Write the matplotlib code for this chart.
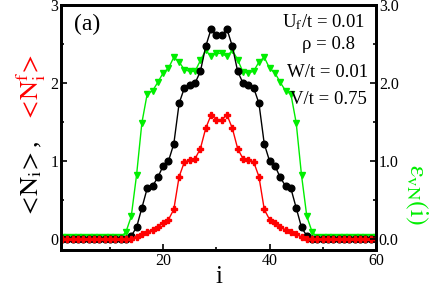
import matplotlib
matplotlib.use("Agg")
import matplotlib.pyplot as plt
from matplotlib.ticker import MultipleLocator

plt.rcParams['font.family'] = ['Liberation Serif', 'DejaVu Serif']
plt.rcParams['mathtext.fontset'] = 'stix'

sites = list(range(1, 61))
n_total = [0.0]*13 + [0.04, 0.15, 0.40, 0.65, 0.68, 0.79, 0.94, 1.00, 1.22, 1.74,
                      1.94, 1.97, 2.00, 2.15, 2.47, 2.69, 2.61, 2.61, 2.69, 2.47,
                      2.15, 2.00, 1.97, 1.94, 1.74, 1.22, 1.00, 0.94, 0.79, 0.68,
                      0.65, 0.40, 0.15, 0.04] + [0.0]*13
n_f = [0.0]*14 + [0.03, 0.06, 0.09, 0.12, 0.15, 0.21, 0.25, 0.38, 0.80, 0.99,
                  1.01, 1.03, 1.16, 1.42, 1.59, 1.53, 1.53, 1.59, 1.42, 1.16,
                  1.03, 1.01, 0.99, 0.80, 0.38, 0.25, 0.21, 0.15, 0.12, 0.09,
                  0.06, 0.03] + [0.0]*14
entropy = [0.02]*12 + [0.09, 0.29, 0.82, 1.49, 1.86, 1.90, 2.01, 2.13, 2.19, 2.33,
                       2.27, 2.17, 2.15, 2.15, 2.29, 2.42, 2.34, 2.38, 2.38, 2.34,
                       2.42, 2.30, 2.14, 2.13, 2.15, 2.27, 2.33, 2.19, 2.13, 2.01,
                       1.90, 1.86, 1.49, 0.82, 0.29, 0.09] + [0.02]*12

xticks = [20, 40, 60]
yticks_left = [0, 1, 2, 3]
yticks_right = [0.0, 1.0, 2.0, 3.0]
params = ["U$_\\mathrm{f}$/t = 0.01", "\u03c1 = 0.8", "W/t = 0.01", "V/t = 0.75"]

fig = plt.figure(figsize=(4.37, 2.87), dpi=100)
ax = fig.add_axes([0.1396, 0.129, 0.7208, 0.8536])
ax2 = ax.twinx()

ax.plot(sites, entropy, color='#00ee00', lw=1.0, marker='v', ms=5, zorder=2)
ax.plot(sites, n_total, color='black', lw=1.0, marker='o', ms=4.8, zorder=3)
ax.plot(sites, n_f, color='red', lw=1.0, marker='P', ms=5, zorder=4)

ylim = (-0.14, 3.0)
ax.set_xlim(0.8, 60)
ax.set_ylim(*ylim)
ax2.set_ylim(*ylim)

ax.set_xticks(xticks)
ax.xaxis.set_minor_locator(MultipleLocator(10))
ax.set_yticks(yticks_left)
ax.set_yticklabels([str(v) for v in yticks_left])
ax.yaxis.set_minor_locator(MultipleLocator(0.5))
ax2.set_yticks(yticks_right)
ax2.set_yticklabels([f"{v:.1f}" for v in yticks_right])
ax2.yaxis.set_minor_locator(MultipleLocator(0.5))

for a in (ax, ax2):
    a.tick_params(which='both', direction='in', labelsize=11.5, width=1.2)
    a.tick_params(which='major', length=4)
    a.tick_params(which='minor', length=2.5)
    for s in a.spines.values():
        s.set_linewidth(2.0)
ax.tick_params(axis='x', which='both', top=False, pad=2)
ax.tick_params(axis='y', which='both', right=False, pad=2)
ax2.tick_params(axis='y', pad=2)

ax.set_xlabel("i", fontsize=18, labelpad=-2)

fig.text(0.072, 0.375, "$<\\!\\mathrm{N_i}\\!>$,", rotation=90, color='black', fontsize=19,
         ha='center', va='center')
fig.text(0.072, 0.695, "$<\\!\\mathrm{N_i^f}\\!>$", rotation=90, color='red', fontsize=19,
         ha='center', va='center')
fig.text(0.952, 0.32, "$\\mathrm{\\varepsilon_{vN}(i)}$", rotation=-90, color='#00ee00',
         fontsize=19, ha='center', va='center')

ax.text(0.04, 0.965, "(a)", transform=ax.transAxes, fontsize=17, ha='left', va='top')
texts_x = [0.965, 0.933, 0.975, 0.971]
texts_y = [0.93, 0.837, 0.726, 0.615]
for t, x, y in zip(params, texts_x, texts_y):
    ax.text(x, y, t, transform=ax.transAxes, fontsize=13.5, ha='right', va='center')

fig.savefig("out.png", dpi=100)
